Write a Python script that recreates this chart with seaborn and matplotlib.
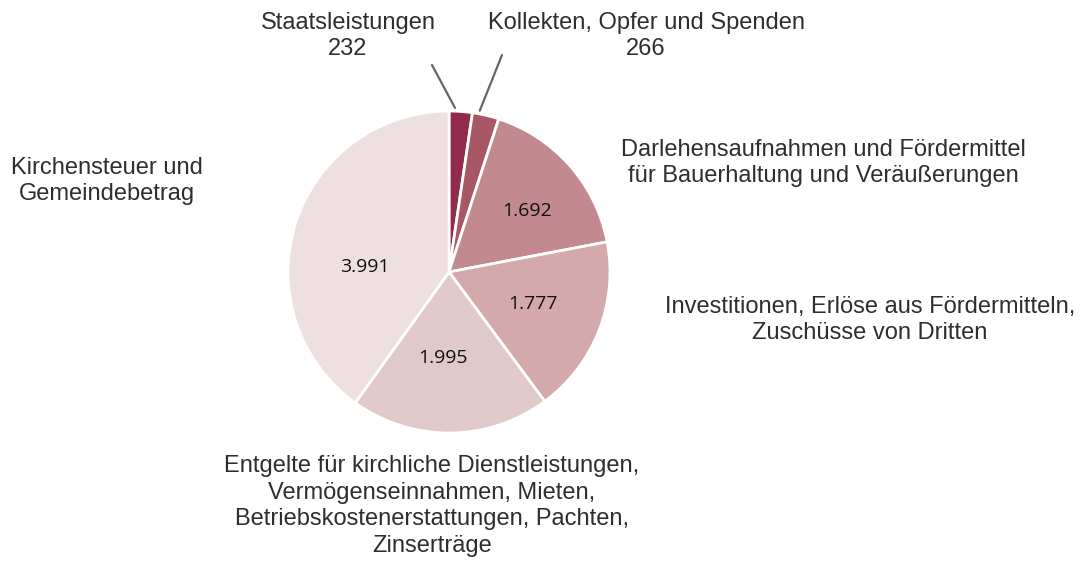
import numpy as np
import matplotlib
matplotlib.use("Agg")
import matplotlib.pyplot as plt
import seaborn as sns

# data, clockwise from the top
categories = [
    "Staatsleistungen",
    "Kollekten, Opfer und Spenden",
    "Darlehensaufnahmen und Fördermittel\nfür Bauerhaltung und Veräußerungen",
    "Investitionen, Erlöse aus Fördermitteln,\nZuschüsse von Dritten",
    "Entgelte für kirchliche Dienstleistungen,\nVermögenseinnahmen, Mieten,\nBetriebskostenerstattungen, Pachten,\nZinserträge",
    "Kirchensteuer und\nGemeindebetrag",
]
values = [232, 266, 1692, 1777, 1995, 3991]
colors = ["#922B4B", "#A85864", "#C28A8E", "#D3A9AB", "#E1C9CA", "#EEE0E1"]

sns.set_style("white")
plt.rcParams['font.family'] = ['Liberation Sans', 'DejaVu Sans']

W, H = 1083, 565
fig = plt.figure(figsize=(W / 100, H / 100), dpi=100)
ax = fig.add_axes([0, 0, 1, 1])


def fy(y):
    # pixel row (from top) -> data y (from bottom)
    return H - y


cx, cy, r = 449, fy(272), 161
wedges, _ = ax.pie(
    values,
    colors=colors,
    startangle=90,
    counterclock=False,
    center=(cx, cy),
    radius=r,
    wedgeprops=dict(edgecolor="white", linewidth=2),
)
ax.set_xlim(0, W)
ax.set_ylim(0, H)
ax.set_aspect("equal")
ax.axis("off")


def fmt(v):
    return f"{v:,}".replace(",", ".")


# numbers inside the bigger slices
inner_pos = {2: (527, 211), 3: (533, 304), 4: (443, 358), 5: (365, 267)}
for i, (x, y) in inner_pos.items():
    ax.text(x, fy(y), fmt(values[i]), ha="center", va="center",
            fontsize=14, family=["Open Sans", "DejaVu Sans"], color="#111111")

# outer labels
outer_pos = {
    0: (348, 36),
    1: (646, 36),
    2: (823, 163),
    3: (870, 320),
    4: (432, 506),
    5: (107, 181),
}
for i, (x, y) in outer_pos.items():
    txt = categories[i]
    if values[i] < 500:
        txt = txt + "\n" + fmt(values[i])
    ax.text(x, fy(y), txt, ha="center", va="center", fontsize=17,
            color="#2e2e2e", linespacing=1.27)

# leader lines for the two small slices
line_start = {0: (432, 65), 1: (502, 55)}
for i, (x, y) in line_start.items():
    w = wedges[i]
    ang = np.deg2rad(w.theta2 - 0.25 * (w.theta2 - w.theta1))
    ex = cx + r * 1.02 * np.cos(ang)
    ey = cy + r * 1.02 * np.sin(ang)
    ax.plot([x, ex], [fy(y), ey], color="#666666", lw=1.6)

fig.savefig("out.png", dpi=100, facecolor="white")
